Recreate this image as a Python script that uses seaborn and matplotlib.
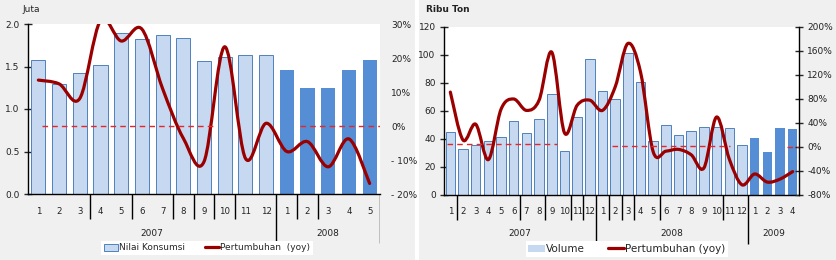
import numpy as np
import pandas as pd
import matplotlib
matplotlib.use('Agg')
import matplotlib.pyplot as plt
import seaborn as sns
from matplotlib.path import Path
from matplotlib.patches import PathPatch, Patch, Rectangle
from matplotlib.lines import Line2D

# ---------------- DATA: KONSUMSI (panel kiri) ----------------
bulan_kiri = [1, 2, 3, 4, 5, 6, 7, 8, 9, 10, 11, 12, 1, 2, 3, 4, 5]
tahun_kiri = ['2007'] * 12 + ['2008'] * 5
nilai_konsumsi = [1.58, 1.30, 1.42, 1.52, 1.90, 1.82, 1.87, 1.84, 1.56,
                  1.61, 1.63, 1.63, 1.46, 1.25, 1.25, 1.46, 1.58]
tumbuh_kiri = [13.5, 12.4, 8.1, 31, 25, 28.5, 11, -3.6, -10.5, 23.3,
               -9.5, 0.8, -7.5, -4.6, -12, -3.8, -16.9]
nol_kiri = [(0.16, 8.62, 0), (12.64, 16.5, 0)]          # garis putus-putus 0%
sekat_kiri = [3, 5, 7, 8, 9, 10, 13, 14]                 # sekat pendek
sekat_kiri_panjang = [12, 17]
label_tahun_kiri = [('2007', 5.5), ('2008', 14)]

# ---------------- DATA: VOLUME (panel kanan) ----------------
bulan_kanan = list(range(1, 13)) + list(range(1, 13)) + [1, 2, 3, 4]
tahun_kanan = ['2007'] * 12 + ['2008'] * 12 + ['2009'] * 4
volume = [45.2, 32.6, 36, 38.7, 41.1, 52.8, 44.2, 54, 72, 31.4, 55.8, 97.4,
          74.1, 68.9, 101.7, 80.8, 38.7, 49.7, 43, 45.4, 48.5, 48.5, 48.2, 35.6,
          40.9, 30.4, 48.2, 47.5]
tumbuh_kanan = [91.5, 11.6, 38, -21, 63, 80, 61, 78, 158, 23.7, 69.5, 78,
                61, 100, 172.5, 125, -8, -7, -4, -13, -35, 50, -20, -63,
                -45, -58.5, -53.5, -41]
nol_kanan = [(-0.29, 8.39, 5), (12.75, 22.06, 2), (26.53, 27.5, 0)]
sekat_kanan = [1, 6, 8, 10, 11, 13, 14, 15, 17, 22]
sekat_kanan_panjang = [12, 24]
label_tahun_kanan = [('2007', 5.5), ('2008', 17.5), ('2009', 25.5)]

# ---------------- STYLE ----------------
sns.set_style('white')
plt.rcParams['font.family'] = ['DejaVu Sans']
plt.rcParams['font.size'] = 6.5

BIRU_MUDA = '#c6d9f1'
BIRU_TUA = '#558ed5'
TEPI = '#4f81bd'
MERAH_TUA = '#9b0000'
MERAH = '#e8262a'
TEKS = '#222222'
W, H = 836.0, 260.0


def garis_halus(ax, ys, **kw):
    # kurva halus ala Excel (Catmull-Rom -> Bezier)
    pts = np.column_stack([np.arange(len(ys)), ys]).astype(float)
    verts = [pts[0]]
    codes = [Path.MOVETO]
    for i in range(len(pts) - 1):
        p0 = pts[i - 1] if i > 0 else pts[i]
        p1, p2 = pts[i], pts[i + 1]
        p3 = pts[i + 2] if i + 2 < len(pts) else pts[i + 1]
        verts += [p1 + (p2 - p0) / 6, p2 - (p3 - p1) / 6, p2]
        codes += [Path.CURVE4] * 3
    ax.add_patch(PathPatch(Path(verts, codes), fill=False, **kw))


def panel(fig, px, bulan, tahun, nilai, tumbuh, lebar, warna, ylim, yticks,
          yfmt, ylim2, yticks2, ylabels2, nol, sekat, sekat_p, label_tahun,
          kanan_spine):
    x0, y0, x1, y1 = px          # kotak plot dalam piksel (kiri, atas, kanan, bawah)
    ax = fig.add_axes([x0 / W, 1 - y1 / H, (x1 - x0) / W, (y1 - y0) / H])
    df = pd.DataFrame({'pos': range(len(nilai)), 'nilai': nilai, 'tahun': tahun})
    sns.barplot(data=df, x='pos', y='nilai', hue='tahun', palette=warna,
                dodge=False, width=lebar, legend=False, saturation=1, ax=ax)
    for p in ax.patches:
        if matplotlib.colors.to_hex(p.get_facecolor()) == BIRU_MUDA:
            p.set_edgecolor(TEPI)
            p.set_linewidth(0.7)
        else:
            p.set_linewidth(0)
    n = len(nilai)
    ax.set_xlim(-0.5, n - 0.5)
    ax.set_ylim(*ylim)
    ax.set_yticks(yticks)
    ax.set_yticklabels([yfmt.format(v) for v in yticks], color=TEKS)
    ax.set_xticks(range(n))
    ax.set_xticklabels([str(b) for b in bulan], color=TEKS, fontsize=6.2)
    ax.tick_params(axis='x', length=0, pad=9)
    ax.tick_params(axis='y', direction='inout', length=6, width=1, pad=3)
    ax.set_xlabel('')
    ax.set_ylabel('')
    for s in ['top', 'right']:
        ax.spines[s].set_visible(False)
    for s in ['left', 'bottom']:
        ax.spines[s].set_color('black')
        ax.spines[s].set_linewidth(1)

    ax2 = ax.twinx()
    ax2.set_ylim(*ylim2)
    ax2.set_yticks(yticks2)
    ax2.set_yticklabels(ylabels2, color=TEKS)
    for s in ['top', 'left', 'bottom']:
        ax2.spines[s].set_visible(False)
    if kanan_spine:
        ax2.spines['right'].set_color('black')
        ax2.spines['right'].set_linewidth(1)
        ax2.tick_params(axis='y', direction='inout', length=6, width=1, pad=3)
    else:
        ax2.spines['right'].set_visible(False)
        ax2.tick_params(axis='y', length=0, pad=8)

    for a, b, lv in nol:
        ax2.plot([a, b], [lv, lv], color=MERAH, lw=1, ls=(0, (4, 3)))
    garis_halus(ax2, tumbuh, edgecolor=MERAH_TUA, lw=2.3, capstyle='round',
                joinstyle='round')

    # pita bawah: sekat bulan dan label tahun (sumbu terpisah, berbagi x)
    axs = fig.add_axes([x0 / W, 1 - (y1 + 50) / H, (x1 - x0) / W, 50 / H],
                       sharex=ax)
    axs.set_ylim(0, 1)
    axs.patch.set_visible(False)
    axs.axis('off')
    axs.vlines([k - 0.5 for k in sekat], 1 - 24.5 / 50, 1, color='black', lw=1)
    axs.vlines([k - 0.5 for k in sekat_p], 1 - 48.5 / 50, 1, color='black',
               lw=1)
    for teks, xc in label_tahun:
        axs.text(xc, 1 - 39 / 50, teks, ha='center', va='center', color=TEKS,
                 fontsize=6.5)
    ax.set_xlim(-0.5, n - 0.5)
    return ax, ax2


fig = plt.figure(figsize=(8.36, 2.6), dpi=100, facecolor='#f0f0f0')
fig.add_artist(Rectangle((415 / W, 0), 4 / W, 1, transform=fig.transFigure,
                         facecolor='white', edgecolor='none', zorder=-1))

# panel kiri
axA, axA2 = panel(fig, (28, 24, 380, 194),
                  bulan_kiri, tahun_kiri, nilai_konsumsi, tumbuh_kiri, 0.68,
                  {'2007': BIRU_MUDA, '2008': BIRU_TUA},
                  (0, 2.0), [0, 0.5, 1.0, 1.5, 2.0], '{:.1f}',
                  (-20, 30), [-20, -10, 0, 10, 20, 30],
                  ['- 20%', '- 10%', '0%', '10%', '20%', '30%'],
                  nol_kiri, sekat_kiri, sekat_kiri_panjang, label_tahun_kiri,
                  False)
fig.text(22 / W, 1 - 9 / H, 'Juta', ha='left', va='center', color=TEKS,
         fontsize=6.5)

# panel kanan
axB, axB2 = panel(fig, (444, 27, 799, 195),
                  bulan_kanan, tahun_kanan, volume, tumbuh_kanan, 0.75,
                  {'2007': BIRU_MUDA, '2008': BIRU_MUDA, '2009': BIRU_TUA},
                  (0, 120), list(range(0, 121, 20)), '{:.0f}',
                  (-80, 200), list(range(-80, 201, 40)),
                  ['{}%'.format(v) for v in range(-80, 201, 40)],
                  nol_kanan, sekat_kanan, sekat_kanan_panjang, label_tahun_kanan,
                  True)
fig.text(426 / W, 1 - 9 / H, 'Ribu Ton', ha='left', va='center',
         color=TEKS, fontsize=6.5, fontweight='bold')

# legenda
legA = fig.legend(handles=[Patch(facecolor=BIRU_MUDA, edgecolor=TEPI, lw=0.7),
                           Line2D([0], [0], color=MERAH_TUA, lw=2.3)],
                  labels=['Nilai Konsumsi', 'Pertumbuhan  (yoy)'],
                  loc='center', bbox_to_anchor=(207 / W, 1 - 248 / H),
                  ncol=2, frameon=True, fontsize=6.5, handlelength=1.6,
                  handletextpad=0.1, columnspacing=2.2, borderpad=0.3,
                  fancybox=False, framealpha=1)
legA.get_frame().set_facecolor('white')
legA.get_frame().set_edgecolor('none')

legB = fig.legend(handles=[Patch(facecolor=BIRU_MUDA, edgecolor='none'),
                           Line2D([0], [0], color=MERAH_TUA, lw=2.3)],
                  labels=['Volume', 'Pertumbuhan (yoy)'],
                  loc='center', bbox_to_anchor=(627 / W, 1 - 249 / H),
                  ncol=2, frameon=True, fontsize=7.5, handlelength=1.6,
                  handletextpad=0.1, columnspacing=2.2, borderpad=0.25,
                  fancybox=False, framealpha=1)
legB.get_frame().set_facecolor('white')
legB.get_frame().set_edgecolor('none')

plt.savefig('out.png', dpi=100, facecolor=fig.get_facecolor())
